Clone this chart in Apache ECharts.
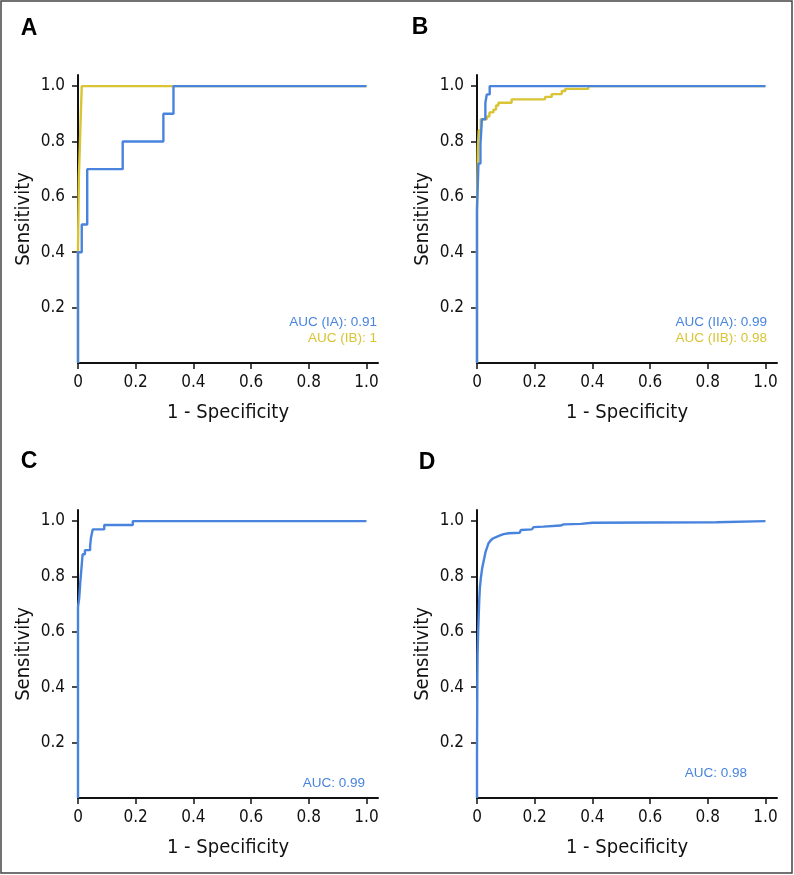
<!DOCTYPE html>
<html>
<head>
<meta charset="utf-8">
<script src="https://cdn.jsdelivr.net/npm/echarts@6/dist/echarts.min.js"></script>
<style>
html,body{margin:0;padding:0;background:#fff;}
#chart{width:794px;height:875px;}
</style>
</head>
<body>
<div id="chart"></div>
<script>
// ---- Data ----
const xTicks = [0, 0.2, 0.4, 0.6, 0.8, 1.0];
const yTicks = [0.2, 0.4, 0.6, 0.8, 1.0];
const panelLetters = ['A', 'B', 'C', 'D'];

// Panel A
const rocIA = [[0,0],[0,0.4],[0.013,0.4],[0.013,0.5],[0.032,0.5],[0.032,0.7],[0.155,0.7],[0.155,0.8],[0.296,0.8],[0.296,0.9],[0.331,0.9],[0.331,1.0],[1,1]];
const rocIB = [[0,0],[0,0.42],[0.003,0.42],[0.003,0.67],[0.008,0.67],[0.008,0.84],[0.013,0.84],[0.013,1.0],[1,1]];
const aucA = ['AUC (IA): 0.91', 'AUC (IB): 1'];

// Panel B
const rocIIA = [[0,0],[0,0.55],[0.005,0.55],[0.005,0.72],[0.012,0.72],[0.012,0.79],[0.017,0.79],[0.017,0.88],[0.029,0.88],[0.029,0.94],[0.034,0.94],[0.034,0.97],[0.044,0.97],[0.044,1.0],[1,1]];
const rocIIB = [[0,0],[0,0.57],[0.003,0.57],[0.003,0.78],[0.006,0.78],[0.006,0.84],[0.013,0.84],[0.013,0.88],[0.034,0.88],[0.034,0.89],[0.043,0.89],[0.043,0.905],[0.057,0.905],[0.057,0.915],[0.066,0.915],[0.066,0.93],[0.074,0.93],[0.074,0.94],[0.12,0.94],[0.12,0.952],[0.236,0.952],[0.236,0.961],[0.259,0.961],[0.259,0.971],[0.294,0.971],[0.294,0.982],[0.306,0.982],[0.306,0.99],[0.386,0.99],[0.386,1.0],[1,1]];
const aucB = ['AUC (IIA): 0.99', 'AUC (IIB): 0.98'];

// Panel C
const rocC = [[0,0],[0,0.69],[0.004,0.72],[0.008,0.78],[0.012,0.83],[0.016,0.83],[0.016,0.88],[0.024,0.88],[0.024,0.895],[0.042,0.895],[0.042,0.91],[0.045,0.91],[0.045,0.94],[0.051,0.94],[0.051,0.97],[0.091,0.97],[0.091,0.986],[0.19,0.986],[0.19,1.0],[1,1]];
const aucC = ['AUC: 0.99'];

// Panel D
const rocD = [[0,0],[0,0.15],[0.001,0.4],[0.002,0.52],[0.004,0.6],[0.006,0.66],[0.008,0.72],[0.01,0.76],[0.014,0.8],[0.018,0.83],[0.022,0.85],[0.026,0.87],[0.03,0.89],[0.035,0.905],[0.04,0.92],[0.047,0.93],[0.055,0.937],[0.068,0.943],[0.08,0.948],[0.092,0.953],[0.11,0.956],[0.148,0.958],[0.152,0.968],[0.19,0.97],[0.196,0.978],[0.23,0.98],[0.29,0.984],[0.3,0.988],[0.36,0.99],[0.4,0.994],[0.6,0.995],[0.83,0.996],[0.832,1.0],[1,1]];
const aucD = ['AUC: 0.98'];

// ---- Styling ----
const BLUE = '#4884de';
const YELLOW = '#d8c434';
const AXIS_FONT = '"DejaVu Sans Condensed", "Liberation Sans", sans-serif';
const TEXT_FONT = '"Liberation Sans", Arial, sans-serif';

const grids = [
  {left: 78, top: 75, width: 300, height: 288},
  {left: 477, top: 75, width: 300, height: 288},
  {left: 78, top: 510, width: 300, height: 288},
  {left: 477, top: 510, width: 300, height: 288}
];

function fmt(v){ return v === 0 ? '0' : v.toFixed(1); }

const xAxes = grids.map((g, i) => ({
  type: 'value', gridIndex: i, min: 0, max: 1.04,
  name: '1 - Specificity', nameLocation: 'middle', nameGap: 40,
  nameTextStyle: {fontFamily: AXIS_FONT, fontSize: 20, color: '#111'},
  axisLine: {show: true, onZero: false, lineStyle: {color: '#111', width: 2}},
  axisTick: {show: true, length: 6, customValues: xTicks, lineStyle: {color: '#111', width: 1.5}},
  axisLabel: {customValues: xTicks, formatter: fmt, margin: 11, fontFamily: AXIS_FONT, fontSize: 17, color: '#111'},
  splitLine: {show: false}
}));

const yAxes = grids.map((g, i) => ({
  type: 'value', gridIndex: i, min: 0, max: 1.04,
  name: 'Sensitivity', nameLocation: 'middle', nameGap: 44, nameRotate: 90,
  nameTextStyle: {fontFamily: AXIS_FONT, fontSize: 20, color: '#111'},
  axisLine: {show: true, onZero: false, lineStyle: {color: '#111', width: 2}},
  axisTick: {show: true, length: 6, customValues: yTicks, lineStyle: {color: '#111', width: 1.5}},
  axisLabel: {customValues: yTicks, formatter: fmt, margin: 13, fontFamily: AXIS_FONT, fontSize: 17, color: '#111'},
  splitLine: {show: false}
}));

function lineSeries(data, idx, color, z){
  return {type: 'line', xAxisIndex: idx, yAxisIndex: idx, data: data, showSymbol: false, symbol: 'none',
          lineStyle: {color: color, width: 2.4}, itemStyle: {color: color}, z: z, animation: false};
}

const series = [
  lineSeries(rocIB, 0, YELLOW, 2),
  lineSeries(rocIA, 0, BLUE, 3),
  lineSeries(rocIIB, 1, YELLOW, 2),
  lineSeries(rocIIA, 1, BLUE, 3),
  lineSeries(rocC, 2, BLUE, 3),
  lineSeries(rocD, 3, BLUE, 3)
];

const letterPos = [[29, 29], [420, 28], [29, 462], [427, 463]];
const graphics = [
  {type: 'rect', shape: {x: 1, y: 1, width: 791, height: 872}, style: {fill: 'none', stroke: '#444', lineWidth: 1.5}, silent: true}
];
panelLetters.forEach((t, i) => {
  graphics.push({type: 'text', x: letterPos[i][0], y: letterPos[i][1],
    style: {text: t, font: 'bold 23px ' + TEXT_FONT, fill: '#000', align: 'center', verticalAlign: 'middle'}});
});
function aucText(lines, colors, right, y0){
  lines.forEach((t, k) => {
    graphics.push({type: 'text', x: right, y: y0 + k * 16,
      style: {text: t, font: '13.5px ' + TEXT_FONT, fill: colors[k], align: 'right', verticalAlign: 'middle'}});
  });
}
aucText(aucA, [BLUE, YELLOW], 377, 322);
aucText(aucB, [BLUE, YELLOW], 767, 322);
aucText(aucC, [BLUE], 365, 783);
aucText(aucD, [BLUE], 747, 773);

const chart = echarts.init(document.getElementById('chart'), null, {renderer: 'canvas'});
chart.setOption({
  animation: false,
  backgroundColor: '#fff',
  grid: grids,
  xAxis: xAxes,
  yAxis: yAxes,
  series: series,
  graphic: graphics
});
</script>
</body>
</html>
